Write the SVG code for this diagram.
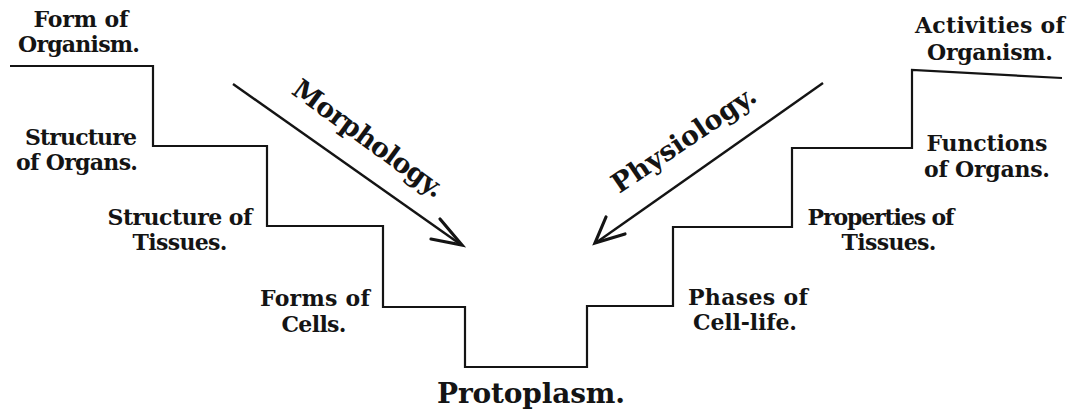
<svg xmlns="http://www.w3.org/2000/svg" width="1071" height="417" viewBox="0 0 1071 417">
<style>
.lbl{font-family:"DejaVu Serif","Liberation Serif",serif;font-weight:bold;font-size:22px;fill:#141414;text-anchor:middle}
.big{font-size:28px}
.axis{font-size:27px}
.step{fill:none;stroke:#141414;stroke-width:2.2;stroke-linejoin:miter}
.arr{fill:none;stroke:#141414;stroke-width:2.4}
.head{fill:none;stroke:#141414;stroke-width:3.2;stroke-linecap:round;stroke-linejoin:miter}
</style>
<rect width="1071" height="417" fill="#ffffff"/>
<g id="steps">
<polyline class="step" points="10,66 153,66 153,146 267,146 267,226 383,226 383,307 465,307 465,367 587,367 587,306 673,306 673,227 792,227 792,148 912,148 912,70 1062,78"/>
</g>
<g id="connectors">
<g id="arrow-morphology">
<line class="arr" x1="233" y1="84" x2="460" y2="244"/>
<polyline class="head" points="440,219 462,245 431,239"/>
</g>
<g id="arrow-physiology">
<line class="arr" x1="823" y1="83" x2="597" y2="242"/>
<polyline class="head" points="606,217 595,243 625,234"/>
</g>
</g>
<g id="n-form-organism"><text class="lbl" x="81" y="27" textLength="95">Form of</text><text class="lbl" x="79" y="52" textLength="122">Organism.</text></g>
<g id="n-structure-organs"><text class="lbl" x="81" y="145" textLength="112">Structure</text><text class="lbl" x="77" y="170" textLength="122">of Organs.</text></g>
<g id="n-structure-tissues"><text class="lbl" x="180" y="225" textLength="145">Structure of</text><text class="lbl" x="180" y="250" textLength="95">Tissues.</text></g>
<g id="n-forms-cells"><text class="lbl" x="315" y="306" textLength="110">Forms of</text><text class="lbl" x="314" y="332" textLength="65">Cells.</text></g>
<g id="n-protoplasm"><text class="lbl big" x="531" y="403" textLength="188">Protoplasm.</text></g>
<g id="n-phases-cell"><text class="lbl" x="748" y="305" textLength="120">Phases of</text><text class="lbl" x="745" y="330" textLength="104">Cell-life.</text></g>
<g id="n-properties-tissues"><text class="lbl" x="881" y="225" textLength="147">Properties of</text><text class="lbl" x="889" y="250" textLength="95">Tissues.</text></g>
<g id="n-functions-organs"><text class="lbl" x="987" y="151" textLength="121">Functions</text><text class="lbl" x="987" y="177" textLength="126">of Organs.</text></g>
<g id="n-activities-organism"><text class="lbl" x="990" y="33" textLength="150">Activities of</text><text class="lbl" x="990" y="60" textLength="126">Organism.</text></g>
<g id="n-morphology"><text class="lbl axis" transform="translate(363,146) rotate(36)" x="0" y="0" textLength="180">Morphology.</text></g>
<g id="n-physiology"><text class="lbl axis" transform="translate(689,147) rotate(-34)" x="0" y="0" textLength="168">Physiology.</text></g>
</svg>
